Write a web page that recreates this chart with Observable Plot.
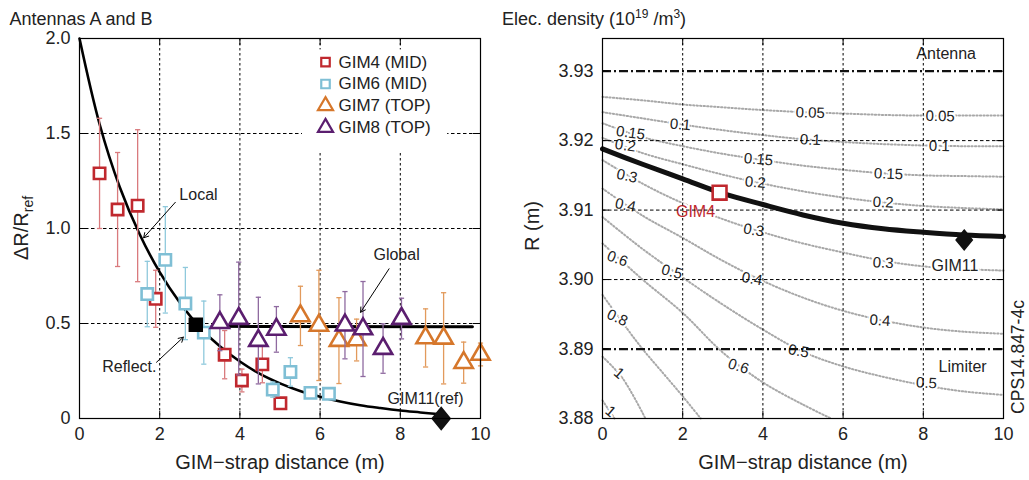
<!DOCTYPE html>
<html><head><meta charset="utf-8">
<script src="https://cdn.jsdelivr.net/npm/d3@7"></script>
<script src="https://cdn.jsdelivr.net/npm/@observablehq/plot@0.6"></script>
<style>
body{margin:0;background:#fff;}
#wrap{display:flex;width:1029px;height:480px;overflow:hidden;}
svg{display:block;}
</style></head><body><div id="wrap"></div>
<script>
// ================= LEFT PANEL DATA =================
const xTicks = [0, 2, 4, 6, 8, 10];
const xGrid = [2, 4, 6, 8];
const leftYTicks = [0, 0.5, 1, 1.5, 2];
const leftYTickLabels = ["0", "0.5", "1.0", "1.5", "2.0"];
const leftYGrid = [0.5, 1, 1.5];

const gim4X = [0.5, 0.95, 1.45, 1.9, 3.62, 4.05, 4.56, 5.01];
const gim4Y = [1.29, 1.10, 1.12, 0.63, 0.336, 0.20, 0.285, 0.08];
const gim4Err = [0.29, 0.30, 0.40, 0.15, 0.127, 0.06, 0.097, 0];

const gim6X = [1.69, 2.14, 2.64, 3.1, 4.82, 5.26, 5.76, 6.22];
const gim6Y = [0.655, 0.835, 0.605, 0.452, 0.152, 0.245, 0.135, 0.13];
const gim6Err = [0.172, 0.28, 0.19, 0.166, 0.04, 0.075, 0.02, 0];

const gim7X = [5.51, 5.97, 6.47, 6.91, 8.63, 9.08, 9.58, 10.0];
const gim7Y = [0.54, 0.49, 0.41, 0.413, 0.424, 0.422, 0.294, 0.337];
const gim7Err = [0.156, 0.29, 0.226, 0.11, 0.153, 0.24, 0.108, 0.06];

const gim8X = [3.5, 3.97, 4.46, 4.91, 6.62, 7.07, 7.57, 8.03];
const gim8Y = [0.504, 0.526, 0.41, 0.469, 0.491, 0.471, 0.368, 0.526];
const gim8Err = [0.147, 0.297, 0.228, 0.12, 0.177, 0.25, 0.13, 0.107];

const localX = [0, 0.5, 1, 1.5, 2, 2.5, 3, 3.5, 4, 4.5, 5, 5.5, 6, 6.5, 7, 7.5, 8, 8.5, 9];
const localY = [2.0, 1.55, 1.22, 0.97, 0.77, 0.61, 0.48, 0.38, 0.30, 0.235, 0.185, 0.145, 0.115, 0.09, 0.07, 0.055, 0.042, 0.032, 0.022];
const globalX = [3.3, 9.8];
const globalY = [0.485, 0.483];
const reflectX = [2.9], reflectY = [0.493];
const refX = [9.02], refY = [0];

const seriesNames = ["GIM4 (MID)", "GIM6 (MID)", "GIM7 (TOP)", "GIM8 (TOP)"];
const seriesColors = ["#c0282e", "#7fbfd5", "#d6772b", "#5b1e6f"];
const barColors = ["#d97a7d", "#8fc9dc", "#e29a5c", "#8f6aa0"];
const seriesSymbols = ["square", "square", "triangle", "triangle"];

const leftNotes = ["Local", "Global", "Reflect.", "GIM11(ref)"];
const leftNoteX = [2.49, 7.33, 0.566, 8.63];
const leftNoteY = [1.179, 0.863, 0.274, 0.104];
const leftNoteAnchor = ["start", "start", "start", "middle"];
const arrowFromX = [2.39, 7.72, 1.92];
const arrowFromY = [1.138, 0.788, 0.296];
const arrowToX = [1.60, 7.01, 2.59];
const arrowToY = [0.951, 0.559, 0.428];

// ================= RIGHT PANEL DATA =================
const rightYTicks = [3.88, 3.89, 3.90, 3.91, 3.92, 3.93];
const rightYTickLabels = ["3.88", "3.89", "3.90", "3.91", "3.92", "3.93"];
const rightYGrid = [3.90, 3.91, 3.92];
const boundaryY = [3.93, 3.89];
const boundaryNames = ["Antenna", "Limiter"];
const boundaryNameX = [8.57, 8.98];
const boundaryNameY = [3.9325, 3.8874];

const profileX = [0, 1, 2, 3, 4, 5, 6, 7, 8, 9, 10];
const profileY = [3.9188, 3.9166, 3.9145, 3.9124, 3.9108, 3.9093, 3.9081, 3.9073, 3.9068, 3.9064, 3.9062];
const gim4PosX = [2.92], gim4PosY = [3.9125];
const gim11PosX = [9.02], gim11PosY = [3.9057];

const contourX = [0, 1, 2, 3, 4, 5, 6, 7, 8, 9, 10];
const c005 = [3.9263, 3.9258, 3.9252, 3.9248, 3.9244, 3.9241, 3.9239, 3.9237, 3.9236, 3.9236, 3.9236];
const c010 = [3.9241, 3.9232, 3.9223, 3.9215, 3.9208, 3.9202, 3.9198, 3.9195, 3.9193, 3.9192, 3.9192];
const c015 = [3.9225, 3.9205, 3.9192, 3.9181, 3.9172, 3.9164, 3.9158, 3.9153, 3.9150, 3.9149, 3.9148];
const c020 = [3.9204, 3.9182, 3.9166, 3.9151, 3.9138, 3.9127, 3.9118, 3.9111, 3.9106, 3.9103, 3.9101];
const c030 = [3.9172, 3.9138, 3.9110, 3.9087, 3.9068, 3.9052, 3.9039, 3.9027, 3.9019, 3.9015, 3.9013];
const c040 = [3.9131, 3.9092, 3.9060, 3.9027, 3.8998, 3.8974, 3.8955, 3.8941, 3.8931, 3.8925, 3.8922];
const c050 = [3.9090, 3.9044, 3.9003, 3.8964, 3.8928, 3.8896, 3.8875, 3.8860, 3.8848, 3.8839, 3.8834];
const c060X = [0, 1, 2, 3, 4, 5, 5.7];
const c060 = [3.9052, 3.9000, 3.8952, 3.8895, 3.8852, 3.8820, 3.8800];
const c080X = [0, 0.5, 1, 1.5, 2, 2.45];
const c080 = [3.8978, 3.8938, 3.8900, 3.8866, 3.8832, 3.8800];
const c100X = [0, 0.5, 1.07];
const c100 = [3.8889, 3.8858, 3.8800];
const c100bX = [0, 0.3];
const c100b = [3.8826, 3.8800];

const clabText = ["0.05","0.05","0.1","0.1","0.1","0.15","0.15","0.15","0.2","0.2","0.2","0.3","0.3","0.3","0.4","0.4","0.4","0.5","0.5","0.5","0.6","0.6","0.8","1","1"];
const clabX = [5.18, 8.42, 1.94, 5.18, 8.40, 0.70, 3.89, 7.13, 0.57, 3.81, 7.00, 0.61, 3.77, 7.00, 0.57, 3.73, 6.92, 1.73, 4.89, 8.08, 0.37, 3.39, 0.37, 0.41, 0.20];
const clabY = [3.9240, 3.9235, 3.9223, 3.9201, 3.9192, 3.9211, 3.9173, 3.9152, 3.9193, 3.9140, 3.9111, 3.9149, 3.9071, 3.9024, 3.9107, 3.9001, 3.8941, 3.9011, 3.8897, 3.8851, 3.9030, 3.8875, 3.8945, 3.8865, 3.8810];
const clabAngle = [2, 1, 5, 2, 1, 8, 5, 2, 8, 5, 3, 12, 9, 3, 12, 10, 4, 15, 10, 3, 20, 18, 25, 40, 40];

// ================= BUILD =================
const FONT = "'Liberation Sans', Arial, Helvetica, sans-serif";
const W1 = 520, W2 = 509, H = 480, MT = 38, MB = 62;
const FH = H - MT - MB;
const TL = 7;

const cap = {draw(ctx, size) { const w = Math.sqrt(size / Math.PI); ctx.moveTo(-w, 0); ctx.lineTo(w, 0); }};
const diamond = {draw(ctx, size) { const s = Math.sqrt(size / Math.PI); ctx.moveTo(0, -1.1 * s); ctx.lineTo(0.9 * s, 0); ctx.lineTo(0, 1.1 * s); ctx.lineTo(-0.9 * s, 0); ctx.closePath(); }};

const seriesX = [gim4X, gim6X, gim7X, gim8X];
const seriesY = [gim4Y, gim6Y, gim7Y, gim8Y];
const seriesE = [gim4Err, gim6Err, gim7Err, gim8Err];

function frameTicks(xt, yt, fw) {
  return [
    Plot.ruleX(xt, {x: d => d, insetTop: FH - TL, stroke: "black", strokeWidth: 1}),
    Plot.ruleX(xt, {x: d => d, insetBottom: FH - TL, stroke: "black", strokeWidth: 1}),
    Plot.ruleY(yt, {y: d => d, insetRight: fw - TL, stroke: "black", strokeWidth: 1}),
    Plot.ruleY(yt, {y: d => d, insetLeft: fw - TL, stroke: "black", strokeWidth: 1})
  ];
}

const leftMarks = [
  Plot.ruleX(xGrid, {x: d => d, stroke: "black", strokeWidth: 1, strokeDasharray: "2.5,2.5"}),
  Plot.ruleY(leftYGrid, {y: d => d, stroke: "black", strokeWidth: 1, strokeDasharray: "3.5,2.5"}),
  Plot.rect([0], {x1: 5.56, x2: 9.18, y1: 1.395, y2: 1.94, fill: "white"}),
  Plot.line(localX.map((x, i) => ({x, y: localY[i]})), {x: "x", y: "y", stroke: "black", strokeWidth: 2.6, curve: "catmull-rom"}),
  Plot.line(globalX.map((x, i) => ({x, y: globalY[i]})), {x: "x", y: "y", stroke: "black", strokeWidth: 3})
];
seriesX.forEach((xs, s) => {
  const rows = xs.map((x, i) => ({x, y: seriesY[s][i], e: seriesE[s][i]}));
  const withErr = rows.filter(d => d.e > 0);
  leftMarks.push(
    Plot.ruleX(withErr, {x: "x", y1: d => d.y - d.e, y2: d => d.y + d.e, stroke: barColors[s], strokeWidth: 1.3}),
    Plot.dot(withErr.flatMap(d => [{x: d.x, y: d.y - d.e}, {x: d.x, y: d.y + d.e}]), {x: "x", y: "y", symbol: cap, r: 2.6, stroke: barColors[s], strokeWidth: 1.3, fill: "none"}),
    Plot.dot(rows, {x: "x", y: "y", symbol: seriesSymbols[s], r: seriesSymbols[s] === "square" ? 6.4 : 6.8, stroke: seriesColors[s], strokeWidth: 2.6, fill: "white"})
  );
});
leftMarks.push(
  Plot.dot(reflectX.map((x, i) => ({x, y: reflectY[i]})), {x: "x", y: "y", symbol: "square", r: 7.3, fill: "black", stroke: "black"}),
  Plot.dot(refX.map((x, i) => ({x, y: refY[i]})), {x: "x", y: "y", symbol: diamond, r: 10, fill: "#111", stroke: "#111"}),
  Plot.arrow(arrowFromX.map((x, i) => ({x1: x, y1: arrowFromY[i], x2: arrowToX[i], y2: arrowToY[i]})), {x1: "x1", y1: "y1", x2: "x2", y2: "y2", stroke: "black", strokeWidth: 1, headLength: 8}),
  Plot.text(leftNotes.map((t, i) => ({t, x: leftNoteX[i], y: leftNoteY[i], a: leftNoteAnchor[i]})).filter(d => d.a === "start"), {x: "x", y: "y", text: "t", textAnchor: "start", fontSize: 16, fill: "#222"}),
  Plot.text(leftNotes.map((t, i) => ({t, x: leftNoteX[i], y: leftNoteY[i], a: leftNoteAnchor[i]})).filter(d => d.a === "middle"), {x: "x", y: "y", text: "t", textAnchor: "middle", fontSize: 16, fill: "#222"})
);
// legend (layout in pixels converted to data coordinates)
const lx = px => (px - 79) * 10 / 401;
const ly = py => (418 - py) * 2 / 380;
seriesNames.forEach((name, i) => {
  const py = 61.7 + i * 21.8;
  leftMarks.push(
    Plot.dot([0], {x: lx(325), y: ly(py), symbol: seriesSymbols[i], r: seriesSymbols[i] === "square" ? 4.8 : 5.6, stroke: seriesColors[i], strokeWidth: 2.2, fill: "white"}),
    Plot.text([name], {x: lx(338), y: ly(py), text: d => d, textAnchor: "start", fontSize: 17, fill: "#222"})
  );
});
leftMarks.push(
  ...frameTicks([2, 4, 6, 8], leftYGrid, 401),
  Plot.frame({stroke: "black", strokeWidth: 1.2}),
  Plot.axisX({ticks: xTicks, tickSize: 0, tickPadding: 9, fontSize: 18, label: null}),
  Plot.axisY({ticks: leftYTicks, tickFormat: d => leftYTickLabels[leftYTicks.indexOf(d)], tickSize: 0, tickPadding: 9, fontSize: 18, label: null}),
  Plot.text(["GIM\u2212strap distance (m)"], {frameAnchor: "bottom", dy: 50, text: d => d, fontSize: 20, fill: "#222"})
);

const left = Plot.plot({
  width: W1, height: H, marginLeft: 79, marginRight: 40, marginTop: MT, marginBottom: MB,
  x: {domain: [0, 10]}, y: {domain: [0, 2]},
  style: {fontFamily: FONT, fontSize: "18px", background: "white", color: "#222", overflow: "visible"},
  marks: leftMarks
});

// ---- right ----
const contours = [
  [contourX, c005], [contourX, c010], [contourX, c015], [contourX, c020], [contourX, c030],
  [contourX, c040], [contourX, c050], [c060X, c060], [c080X, c080], [c100X, c100], [c100bX, c100b]
].flatMap(([xs, ys], k) => xs.map((x, i) => ({k, x, y: ys[i]})));
const clabs = clabText.map((t, i) => ({t, x: clabX[i], y: clabY[i], a: clabAngle[i]}));
const rnotes = boundaryNames.map((t, i) => ({t, x: boundaryNameX[i], y: boundaryNameY[i], c: "#222"}))
  .concat([{t: "GIM11", x: 8.79, y: 3.9019, c: "#222"}, {t: "GIM4", x: 2.32, y: 3.9097, c: "#c0282e"}]);

const right = Plot.plot({
  width: W2, height: H, marginLeft: 82, marginRight: 26, marginTop: MT, marginBottom: MB,
  x: {domain: [0, 10]}, y: {domain: [3.88, 3.9347]},
  style: {fontFamily: FONT, fontSize: "18px", background: "white", color: "#222", overflow: "visible"},
  marks: [
    Plot.line(contours, {x: "x", y: "y", z: "k", stroke: "#a8a8a8", strokeWidth: 2, strokeDasharray: "1.3,2.2", curve: "catmull-rom"}),
    Plot.text(clabs, {x: "x", y: "y", text: "t", rotate: "a", fontSize: 15, fill: "#222", stroke: "white", strokeWidth: 4, paintOrder: "stroke"}),
    Plot.text(rnotes, {x: "x", y: "y", text: "t", fill: "c", fontSize: 16, stroke: "white", strokeWidth: 4, paintOrder: "stroke"}),
    Plot.ruleX(xGrid, {x: d => d, stroke: "black", strokeWidth: 1, strokeDasharray: "2.5,2.5"}),
    Plot.ruleY(rightYGrid, {y: d => d, stroke: "black", strokeWidth: 1, strokeDasharray: "3.5,2.5"}),
    Plot.ruleY(boundaryY, {y: d => d, stroke: "#111", strokeWidth: 2.3, strokeDasharray: "9,3,2,3"}),
    Plot.line(profileX.map((x, i) => ({x, y: profileY[i]})), {x: "x", y: "y", stroke: "#111", strokeWidth: 5, curve: "catmull-rom"}),
    Plot.dot(gim4PosX.map((x, i) => ({x, y: gim4PosY[i]})), {x: "x", y: "y", symbol: "square", r: 7.8, stroke: "#c0282e", strokeWidth: 2.6, fill: "white"}),
    Plot.dot(gim11PosX.map((x, i) => ({x, y: gim11PosY[i]})), {x: "x", y: "y", symbol: diamond, r: 9, fill: "#111", stroke: "#111"}),
    ...frameTicks([2, 4, 6, 8], rightYTicks, 401.3),
    Plot.frame({stroke: "black", strokeWidth: 1.2}),
    Plot.axisX({ticks: xTicks, tickSize: 0, tickPadding: 9, fontSize: 18, label: null}),
    Plot.axisY({ticks: rightYTicks, tickFormat: d => rightYTickLabels[rightYTicks.indexOf(d)], tickSize: 0, tickPadding: 9, fontSize: 18, label: null}),
    Plot.text(["GIM\u2212strap distance (m)"], {frameAnchor: "bottom", dy: 50, text: d => d, fontSize: 20, fill: "#222"})
  ]
});

document.getElementById("wrap").append(left, right);

// titles and labels with sub/superscripts
const L = d3.select(left), R = d3.select(right);
L.append("text").attr("x", 81).attr("y", 25).attr("font-size", 18).attr("fill", "#222").attr("font-family", FONT).text("Antennas A and B");
const yl = L.append("text").attr("transform", "translate(28,228) rotate(-90)").attr("text-anchor", "middle").attr("font-size", 20).attr("fill", "#222").attr("font-family", FONT);
yl.append("tspan").text("\u0394R/R");
yl.append("tspan").attr("font-size", 14).attr("dy", 5).text("ref");

const tt = R.append("text").attr("x", 74).attr("y", 25).attr("font-size", 18).attr("fill", "#222").attr("font-family", FONT);
tt.append("tspan").text("Elec. density (10");
tt.append("tspan").attr("font-size", 12).attr("dy", -7).text("19");
tt.append("tspan").attr("dy", 7).text(" /m");
tt.append("tspan").attr("font-size", 12).attr("dy", -7).text("3");
tt.append("tspan").attr("dy", 7).text(")");
R.append("text").attr("transform", "translate(19,226) rotate(-90)").attr("text-anchor", "middle").attr("font-size", 20).attr("fill", "#222").attr("font-family", FONT).text("R (m)");
R.append("text").attr("transform", "translate(504,357) rotate(-90)").attr("text-anchor", "middle").attr("font-size", 17.5).attr("fill", "#222").attr("font-family", FONT).text("CPS14.847-4c");
</script></body></html>
